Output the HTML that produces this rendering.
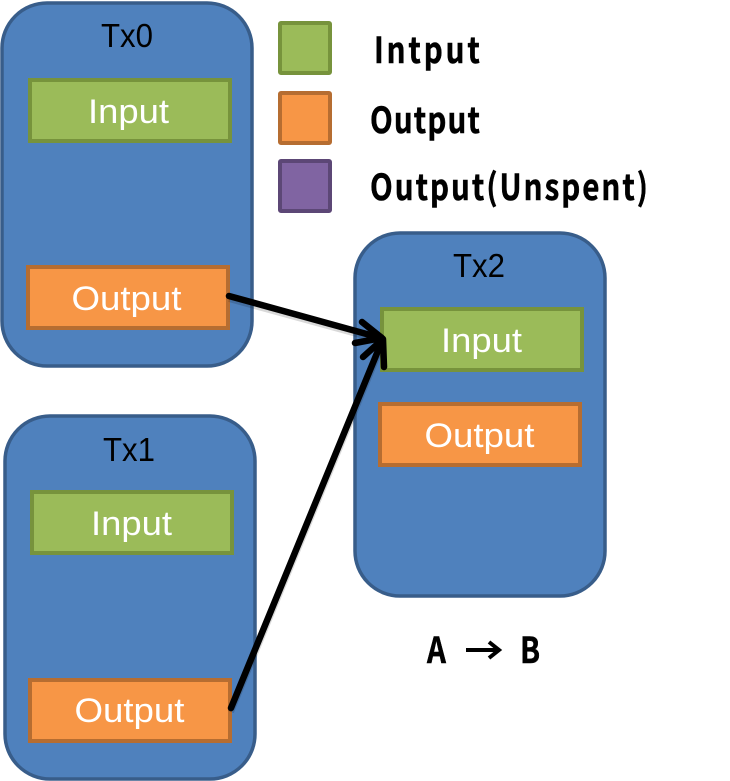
<!DOCTYPE html>
<html><head><meta charset="utf-8"><style>
html,body{margin:0;padding:0;background:#fff}
svg{display:block}
.w{font-family:"Liberation Sans",sans-serif;font-size:34px;fill:#fff;text-anchor:middle}
.k{font-family:"Liberation Sans",sans-serif;font-size:33px;fill:#000;text-anchor:middle}
.l{font-family:"Noto Sans CJK JP","Liberation Sans",sans-serif;font-weight:700;font-size:36px;fill:#000;stroke:#000;stroke-width:.5}
.tx{fill:#4f81bd;stroke:#385d8a;stroke-width:3.5}
.g{fill:#9bbb59;stroke:#77933c;stroke-width:4}
.o{fill:#f79646;stroke:#b66d31;stroke-width:4}
.p{fill:#8064a2;stroke:#5c4776;stroke-width:4}
</style></head><body>
<svg width="730" height="781" viewBox="0 0 730 781" xmlns="http://www.w3.org/2000/svg">
<rect class="tx" x="2" y="3" width="250" height="363" rx="45"/>
<rect class="tx" x="5" y="416" width="250" height="363" rx="45"/>
<rect class="tx" x="355" y="233" width="250" height="363" rx="45"/>

<text class="k" x="127" y="47" textLength="52" lengthAdjust="spacingAndGlyphs">Tx0</text>
<text class="k" x="129" y="461" textLength="52" lengthAdjust="spacingAndGlyphs">Tx1</text>
<text class="k" x="479" y="277" textLength="52" lengthAdjust="spacingAndGlyphs">Tx2</text>

<rect class="g" x="30" y="80" width="200" height="61"/>
<text class="w" x="128.500" y="123" textLength="81" lengthAdjust="spacingAndGlyphs">Input</text>
<rect class="o" x="28" y="267" width="200" height="61"/>
<text class="w" x="126.500" y="310" textLength="110" lengthAdjust="spacingAndGlyphs">Output</text>

<rect class="g" x="32" y="492" width="200" height="61"/>
<text class="w" x="131.500" y="535" textLength="81" lengthAdjust="spacingAndGlyphs">Input</text>
<rect class="o" x="30" y="680" width="200" height="61"/>
<text class="w" x="129.500" y="722" textLength="110" lengthAdjust="spacingAndGlyphs">Output</text>

<rect class="g" x="382" y="309" width="200" height="61"/>
<text class="w" x="481.500" y="352" textLength="81" lengthAdjust="spacingAndGlyphs">Input</text>
<rect class="o" x="380" y="404" width="200" height="61"/>
<text class="w" x="479.500" y="447" textLength="110" lengthAdjust="spacingAndGlyphs">Output</text>

<rect class="g" x="280" y="23" width="50" height="50" rx="1"/>
<rect class="o" x="280" y="93" width="50" height="50" rx="1"/>
<rect class="p" x="280" y="161" width="50" height="50" rx="1"/>

<text class="l" transform="translate(374,63) scale(.82,1)" textLength="129">Intput</text>
<text class="l" transform="translate(370,133) scale(.82,1)" textLength="134">Output</text>
<text class="l" transform="translate(370,200) scale(.82,1)" textLength="339">Output(Unspent)</text>

<text class="l" transform="translate(427,663) scale(.82,1)" textLength="22">A</text>
<g stroke="#000" stroke-width="4" fill="none"><path d="M466 650H498M489 642L499 650L489 658"/></g>
<text class="l" transform="translate(520,663) scale(.82,1)" textLength="23">B</text>

<g stroke="#000" stroke-opacity=".15" stroke-width="6" fill="none" transform="translate(1,3)">
<path d="M228 296L381 338"/><path d="M230 709L382 340"/>
</g>
<g stroke="#000" stroke-width="6.500" fill="none" stroke-linecap="round" stroke-linejoin="round">
<path d="M229 296L381 338"/><path d="M362 322L382 338L355 343"/>
<path d="M231 708L382 341"/><path d="M363 357L383 339L384 367"/>
</g>
</svg>
</body></html>
